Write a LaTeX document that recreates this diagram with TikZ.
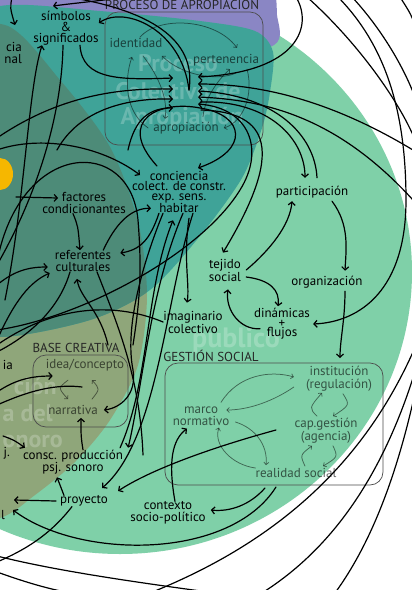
\documentclass[tikz,border=0pt]{standalone}
\usepackage{fontspec}
\setmainfont{PT Sans}
\usetikzlibrary{arrows.meta}
\definecolor{meadow}{RGB}{127,208,168}
\definecolor{lagoon}{RGB}{63,163,152}
\definecolor{moss}{RGB}{143,166,122}
\definecolor{deepmoss}{RGB}{77,139,120}
\definecolor{lilac}{RGB}{138,134,196}
\definecolor{amber}{RGB}{246,183,0}
\tikzset{
  lbl/.style={inner sep=0pt, align=center, font=\fontsize{13}{#1}\selectfont},
  lbl/.default=12,
  glbl/.style={lbl=#1, text opacity=0.6},
  glbl/.default=12,
  head/.style={inner sep=0pt, text=black!85, font=\fontsize{13}{13}\selectfont},
  wm/.style={inner sep=0pt, text=white, text opacity=0.22, font=\bfseries\fontsize{24}{24}\selectfont},
  frame/.style={draw=black!70, line width=0.7pt, rounded corners=13pt},
  link/.style={draw=black, line width=1.2pt, line cap=round},
  arr/.style={link, -{Straight Barb[length=3.2pt,width=7pt]}},
  garr/.style={draw=black, draw opacity=0.5, line width=0.75pt, line cap=round, -{Straight Barb[length=2.4pt,width=5pt]}},
}
\begin{document}
\begin{tikzpicture}[x=1pt,y=-1pt]
\useasboundingbox (0,0) rectangle (412,590);
\clip (0,0) rectangle (412,590);
\fill[white] (0,0) rectangle (412,590);

% ---- coloured fields ----
\fill[meadow] (120,272) ellipse [x radius=292pt, y radius=282pt];
\fill[lilac] plot[smooth cycle] coordinates {(-30,-40) (200,-40) (268,-15) (277,15) (274,45) (200,60) (-30,60)};
\fill[moss] plot[smooth cycle] coordinates {(-120,280) (-60,50) (5,25) (60,80) (110,147) (138,222) (147,295) (138,365) (110,420) (75,462) (35,495) (0,518) (-60,525)};
\fill[lagoon] plot[smooth cycle] coordinates {(-60,40) (0,6) (100,11) (200,21) (255,31) (273,52) (270,92) (262,128) (242,178) (200,236) (150,290) (90,320) (0,337) (-60,320)};
\begin{scope}
  \clip plot[smooth cycle] coordinates {(-60,40) (0,6) (100,11) (200,21) (255,31) (273,52) (270,92) (262,128) (242,178) (200,236) (150,290) (90,320) (0,337) (-60,320)};
  \fill[deepmoss] plot[smooth cycle] coordinates {(-120,280) (-60,50) (5,25) (60,80) (110,147) (138,222) (147,295) (138,365) (110,420) (75,462) (35,495) (0,518) (-60,525)};
\end{scope}
\fill[amber] (0,174) ellipse [x radius=13pt, y radius=16pt];

% ---- faint field names ----
\node[wm] (wmA) at (178,63) {Proceso};
\node[wm] (wmB) at (178,91) {Colectivo de};
\node[wm] (wmC) at (182,118) {Apropiación};
\node[wm, font=\bfseries\fontsize{28}{28}\selectfont] (wmD) at (236,340) {público};
\node[wm, anchor=east] (wmE) at (57,386) {ción};
\node[wm, anchor=east] (wmF) at (53,413) {a del};
\node[wm, anchor=east] (wmG) at (63,441) {onoro};

% ---- group frames and titles ----
\draw[frame] (105,12) rectangle (263,145);
\draw[frame] (33,355) rectangle (128,427);
\draw[frame] (165,363) rectangle (383,485);
\node[head] (tProc) at (182,4) {PROCESO DE APROPIACIÓN};
\node[head] (tBase) at (76,348) {BASE CREATIVA};
\node[head] (tGest) at (211,356) {GESTIÓN SOCIAL};

% ---- labels ----
\node[lbl=11] (sim) at (66,28) {símbolos\\\&\\significados};
\node[lbl=12, align=right, anchor=east] (cia) at (22,53) {cia\\nal};
\node[glbl] (ident) at (136,43) {identidad};
\node[glbl] (pert) at (226,60) {pertenencia};
\node[glbl] (aprop) at (186,128) {apropiación};
\node[lbl=10] (conc) at (179,192) {conciencia\\colect. de constr.\\exp. sens.\\habitar};
\node[lbl=11.5] (fact) at (84,203) {factores\\condicionantes};
\node[lbl=12] (ref) at (83,261) {referentes\\culturales};
\node[lbl] (part) at (312,192) {participación};
\node[lbl=13] (tej) at (225,270) {tejido\\social};
\node[lbl] (org) at (327,282) {organización};
\node[lbl=9.5] (din) at (282,324) {dinámicas\\+\\flujos};
\node[lbl=11] (imag) at (193,322) {imaginario\\colectivo};
\node[glbl] (idea) at (85,365) {idea/concepto};
\node[glbl] (narr) at (73,410) {narrativa};
\node[glbl=13] (inst) at (339,379) {institución\\(regulación)};
\node[glbl=12] (marco) at (201,416) {marco\\normativo};
\node[glbl=12] (cap) at (326,431) {cap.gestión\\(agencia)};
\node[glbl] (real) at (296,473) {realidad social};
\node[lbl=12] (consc) at (73,462) {consc. producción\\psj. sonoro};
\node[lbl] (proy) at (84,501) {proyecto};
\node[lbl=12] (ctx) at (168,513) {contexto\\socio-político};
\node[lbl, anchor=east] (fragA) at (13,365) {ia};
\node[lbl, anchor=east] (fragB) at (10,453) {j.};
\node[lbl, anchor=east] (fragC) at (5,515) {l};

% ---- free ends and convergence points ----
\coordinate (hL1) at (173,78);  \coordinate (hL2) at (173,89);
\coordinate (hL3) at (173,99);  \coordinate (hL4) at (173,108);
\coordinate (hR1) at (198,77);  \coordinate (hR2) at (198,84);
\coordinate (hR3) at (198,91);  \coordinate (hR4) at (198,97);
\coordinate (hR5) at (198,104);
\coordinate (hS1) at (201,102); \coordinate (hS2) at (201,110);
\coordinate (hTop) at (189,90);
\coordinate (eTopA) at (125,-3); \coordinate (eTopB) at (53,6);
\coordinate (eTopC) at (12,-3);  \coordinate (eCia) at (15,25);
\coordinate (eTopD) at (68,-3);
\coordinate (eL1) at (-3,138); \coordinate (eL2) at (57,150); \coordinate (eL3) at (128,150);
\coordinate (eL4) at (5,300);  \coordinate (eL5) at (-3,265);
\coordinate (eA1) at (157,166); \coordinate (eA2) at (198,168);
\coordinate (eL6) at (-3,150); \coordinate (eConcL) at (140,175);
\coordinate (eL7) at (-3,262); \coordinate (eL7b) at (133,345);
\coordinate (eF) at (16,197);
\coordinate (eL8) at (-3,285); \coordinate (eL9) at (-3,340);
\coordinate (eB1) at (108,345); \coordinate (eL10) at (-3,352);
\coordinate (eD1) at (143,455); \coordinate (eL11) at (-3,345);
\coordinate (eL12) at (-3,330);
\coordinate (eR1) at (338,-3); \coordinate (eR2) at (296,-3);
\coordinate (eR3) at (413,150); \coordinate (eR4) at (413,200);
\coordinate (eG) at (340,358);
\coordinate (eG1) at (265,488); \coordinate (eG2) at (276,430); \coordinate (eG3) at (276,487);
\coordinate (eL13) at (13,510); \coordinate (eL14) at (14,500); \coordinate (eL15) at (-3,562);
\coordinate (eL16) at (3,436); \coordinate (eL17) at (-3,392);
\coordinate (eN1) at (82,387); \coordinate (eL18) at (-3,405);
\coordinate (a0s) at (307,-3);  \coordinate (a0e) at (413,135);
\coordinate (a1s) at (352,-3);  \coordinate (a1e) at (413,92);
\coordinate (a2s) at (400,-3);  \coordinate (a2e) at (413,20);
\coordinate (b1s) at (413,352); \coordinate (b1e) at (150,593);
\coordinate (b2s) at (413,378); \coordinate (b2e) at (262,593);
\coordinate (b3s) at (413,402); \coordinate (b3e) at (335,593);
\coordinate (l1s) at (-3,556);  \coordinate (l1e) at (215,593);
\coordinate (l2s) at (-3,572);  \coordinate (l2e) at (70,593);

% ---- grey links inside the groups ----
\draw[garr] ([xshift=4pt,yshift=1pt]ident.north) .. controls (158,16) and (215,18) .. ([xshift=11pt,yshift=6pt]pert.north);
\draw[garr] ([xshift=10pt,yshift=-7pt]pert.south) .. controls (215,82) and (180,74) .. ([xshift=26pt,yshift=-8pt]ident.south);
\draw[garr] ([xshift=7pt,yshift=-8pt]ident.south) .. controls (160,78) and (168,100) .. ([xshift=-21pt,yshift=3pt]aprop.north);
\draw[garr] ([xshift=-5pt]aprop.west) .. controls (125,112) and (124,80) .. ([xshift=-4pt,yshift=-9pt]ident.south);
\draw[garr] ([xshift=21pt,yshift=-3pt]pert.south) .. controls (254,95) and (243,122) .. ([xshift=5pt]aprop.east);
\draw[garr] ([xshift=17pt,yshift=5pt]aprop.north) .. controls (205,95) and (222,76) .. ([xshift=4pt,yshift=-3pt]pert.south);

\draw[garr] ([xshift=-17pt,yshift=-9pt]idea.south) .. controls (58,388) .. ([xshift=-5pt,yshift=6pt]narr.north);
\draw[garr] ([xshift=19pt,yshift=6pt]narr.north) .. controls (100,389) .. ([xshift=7pt,yshift=-9pt]idea.south);

\draw[garr] ([xshift=20pt,yshift=4pt]marco.north) .. controls (238,375) and (270,370) .. ([xshift=-12pt,yshift=2pt]inst.west);
\draw[garr] ([xshift=-12pt,yshift=-8pt]inst.west) .. controls (275,400) and (250,410) .. ([xshift=-3pt,yshift=6pt]marco.east);
\draw[garr] ([xshift=6pt,yshift=-6pt]marco.east) .. controls (255,428) and (268,445) .. ([xshift=-30pt,yshift=3pt]real.north);
\draw[garr] ([yshift=5pt]real.west) .. controls (232,465) and (213,445) .. ([xshift=18pt,yshift=-2pt]marco.south);
\draw[garr] ([xshift=4pt,yshift=-2pt]inst.south) .. controls (350,405) .. ([xshift=7pt,yshift=2pt]cap.north);
\draw[garr] ([xshift=-9pt,yshift=2pt]cap.north) .. controls (309,408) .. ([xshift=-17pt,yshift=-1pt]inst.south);
\draw[garr] ([xshift=7pt,yshift=-2pt]cap.south) .. controls (338,457) .. ([xshift=27pt,yshift=2pt]real.north);
\draw[garr] ([xshift=9pt,yshift=2pt]real.north) .. controls (300,455) .. ([xshift=-14pt,yshift=-2pt]cap.south);

% ---- outer rings ----
\draw[link] (a0s) .. controls (355,40) and (395,95) .. (a0e);
\draw[link] (a1s) .. controls (378,25) and (400,60) .. (a1e);
\draw[link] (a2s) .. controls (405,5) and (410,12) .. (a2e);
\draw[link] (b1s) .. controls (360,470) and (270,545) .. (b1e);
\draw[link] (b2s) .. controls (380,480) and (330,550) .. (b2e);
\draw[link] (b3s) .. controls (395,480) and (370,545) .. (b3e);
\draw[link] (l1s) .. controls (60,572) and (150,584) .. (l1e);
\draw[link] (l2s) .. controls (25,582) and (45,588) .. (l2e);

% ---- links around the appropriation process ----
\draw[arr] (eTopA) .. controls (100,1) and (75,3) .. (eTopB);
\draw[arr] (eTopC) .. controls (10,8) .. (eCia);
\draw[link] (eTopD) .. controls (160,12) and (196,45) .. (hTop);
\draw[arr] (hTop) .. controls (182,30) and (125,5) .. ([yshift=5pt]sim.east);
\draw[arr] ([xshift=14pt]sim.south) .. controls (82,80) and (120,80) .. (hL1);
\draw[arr] (eL1) .. controls (60,95) and (120,88) .. (hL2);
\draw[arr] (eL2) .. controls (80,108) and (130,98) .. (hL3);
\draw[arr] (eL3) .. controls (135,118) and (150,108) .. (hL4);
\draw[arr] (eL4) .. controls (25,200) and (28,90) .. ([xshift=-24pt]sim.south);
\draw[link] ([xshift=-3pt]sim.south) .. controls (62,110) and (40,190) .. (eL5);
\draw[arr] (eA1) .. controls (115,120) and (160,100) .. (200,108) .. controls (245,115) and (250,150) .. (eA2);
\draw[arr] (eL6) .. controls (40,135) and (100,145) .. (eConcL);
\draw[link] (eL7) .. controls (20,140) and (130,135) .. (138,220) .. controls (142,270) and (140,300) .. (eL7b);
\draw[arr] (eR2) .. controls (313,25) and (300,72) .. (hR1);
\draw[arr] (eR3) .. controls (330,100) and (260,84) .. (hR2);
\draw[arr] (eR4) .. controls (340,120) and (270,100) .. (hR4);

% ---- cultural references ----
\draw[arr] (eF) -- ([xshift=16pt,yshift=5pt]fact.west);
\draw[arr] ([xshift=-11pt]fact.south) .. controls (78,226) .. ([xshift=-3pt]ref.north);
\draw[arr] ([xshift=-8pt]ref.north east) .. controls (115,225) and (130,208) .. ([xshift=19pt,yshift=5pt]conc.south west);
\draw[arr] ([xshift=27pt]conc.south west) .. controls (150,240) and (140,250) .. ([xshift=9pt,yshift=8pt]ref.east);
\draw[arr] (eL8) .. controls (15,270) and (30,267) .. ([xshift=-7pt,yshift=-6pt]ref.west);
\draw[arr] (eL9) .. controls (15,300) and (30,282) .. ([xshift=-5pt,yshift=-12pt]ref.west);
\draw[arr] (eB1) .. controls (100,310) and (80,298) .. ([xshift=-6pt,yshift=-7pt]ref.south);
\draw[link] ([xshift=-13pt]ref.south) .. controls (62,300) and (40,330) .. (eL10);
\draw[link] ([xshift=14pt]ref.south) .. controls (120,330) and (140,380) .. (eD1);
\draw[link] (eL11) .. controls (50,308) and (110,300) .. (imag.west);
\draw[arr] (eL12) .. controls (80,318) and (200,255) .. (240,190) .. controls (265,150) and (250,108) .. (hR5);

% ---- from the shared awareness downwards ----
\draw[arr] ([xshift=-16pt]conc.south) .. controls (140,270) and (125,330) .. (133,370) .. controls (137,395) and (120,408) .. ([xshift=6pt]narr.east);
\draw[arr] ([xshift=4pt]conc.south) .. controls (150,290) and (142,390) .. ([xshift=5pt,yshift=2pt]consc.north east);
\draw[arr] ([xshift=14pt]conc.south) .. controls (165,300) and (158,440) .. ([xshift=-6pt,yshift=13pt]proy.east);
\draw[arr] ([xshift=-3pt,yshift=2pt]consc.north east) .. controls (150,380) and (145,290) .. ([xshift=-6pt,yshift=-7pt]conc.south);
\draw[arr] ([xshift=10pt,yshift=-5pt]conc.south) .. controls (183,260) and (190,285) .. ([xshift=-6pt,yshift=8pt]imag.north);

% ---- participation and social fabric ----
\draw[arr] (hS1) .. controls (270,100) and (305,140) .. ([xshift=-7pt,yshift=8pt]part.north);
\draw[arr] ([xshift=5pt,yshift=8pt]part.north) .. controls (315,135) and (275,95) .. (hR3);
\draw[arr] (hS2) .. controls (270,112) and (285,150) .. ([xshift=-2pt,yshift=6pt]tej.north);
\draw[arr] ([xshift=5pt]tej.east) .. controls (270,250) and (290,225) .. ([xshift=-20pt,yshift=-3pt]part.south);
\draw[arr] ([xshift=20pt,yshift=-3pt]part.south) .. controls (350,225) and (346,250) .. ([xshift=18pt,yshift=5pt]org.north);
\draw[arr] ([xshift=5pt,yshift=-7pt]tej.east) .. controls (270,280) and (280,290) .. ([xshift=-4pt,yshift=2pt]din.north);
\draw[arr] ([xshift=-22pt,yshift=11pt]din.south) .. controls (240,330) and (225,310) .. ([xshift=3pt,yshift=-8pt]tej.south);
\draw[arr] (eR1) .. controls (385,45) and (406,110) .. (406,200) .. controls (406,290) and (360,322) .. ([xshift=3pt]din.east);
\draw[arr] ([xshift=18pt,yshift=-3pt]org.south) .. controls (345,320) and (340,340) .. (eG);

% ---- social management and project ----
\draw[arr] (eG1) .. controls (250,505) and (230,512) .. ([xshift=5pt,yshift=3pt]ctx.east);
\draw[arr] ([xshift=7pt]ctx.north) .. controls (168,462) and (172,440) .. ([xshift=-14pt,yshift=-3pt]marco.south);
\draw[arr] (eG2) .. controls (210,448) and (150,470) .. ([xshift=10pt,yshift=10pt]proy.east);
\draw[arr] (eG3) .. controls (230,560) and (80,560) .. (eL13);
\draw[arr] ([xshift=-4pt]proy.west) -- (eL14);
\draw[arr] ([xshift=-20pt]proy.north) .. controls (60,485) .. ([xshift=-16pt,yshift=-3pt]consc.south);
\draw[link] ([xshift=-12pt]proy.south) .. controls (50,535) and (25,550) .. (eL15);
\draw[arr] ([xshift=10pt]consc.north) .. controls (81,437) .. ([xshift=8pt,yshift=-3pt]narr.south);
\draw[arr] (eL16) .. controls (14,440) .. ([xshift=2pt,yshift=2pt]consc.north west);
\draw[arr] (eL17) .. controls (15,380) and (30,376) .. ([xshift=7pt,yshift=-11pt]idea.west);
\draw[link] (eN1) .. controls (50,383) and (20,395) .. (eL18);
\end{tikzpicture}
\end{document}
